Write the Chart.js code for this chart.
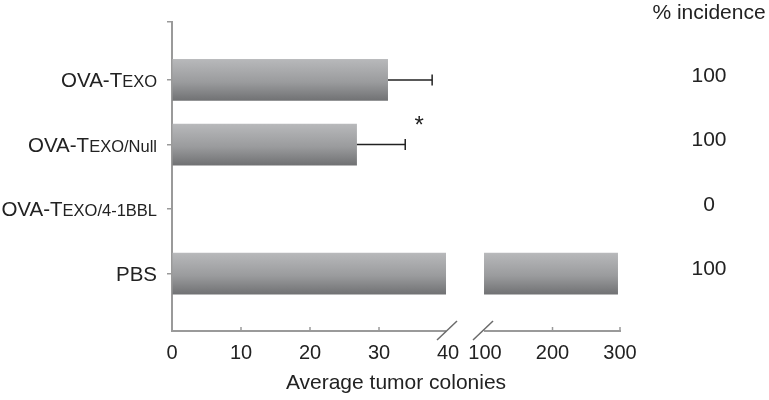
<!DOCTYPE html>
<html><head><meta charset="utf-8">
<script src="https://cdn.jsdelivr.net/npm/chart.js@4.4.1/dist/chart.umd.min.js"></script>
<style>html,body{margin:0;padding:0;background:#fff}</style>
</head><body>
<canvas id="c" width="769" height="400" style="width:769px;height:400px"></canvas>
<script>
// ---- data ----
const labelMain = ['OVA-T', 'OVA-T', 'OVA-T', 'PBS'];
const labelSub = ['EXO', 'EXO/Null', 'EXO/4-1BBL', ''];
const categories = labelMain.map((m, i) => m + labelSub[i]);
const colonies = [31.3, 26.8, 0, 297];
const errPlus = [6.4, 7.0, 0, 0];
const significance = ['', '*', '', ''];
const incidence = ['100', '100', '0', '100'];
const xTicks = [0, 10, 20, 30, 40, 100, 200, 300];
const breakLow = 40, breakHigh = 100;

const FONT = "'Liberation Sans', Arial, sans-serif";
const TXT = '#222';

// broken linear scale: 0-40 on the left part, 100-300 on the right part
class BrokenLinear extends Chart.LinearScale {
  _frac(v) {
    const fL = 0.6161, fH = 0.6987;
    if (v <= breakLow) return v / breakLow * fL;
    if (v >= breakHigh) return fH + (v - breakHigh) / (this.max - breakHigh) * (1 - fH);
    return fL + (v - breakLow) / (breakHigh - breakLow) * (fH - fL);
  }
  getPixelForValue(v) { return this.getPixelForDecimal(this._frac(v)); }
  getValueForPixel(p) {
    const d = this.getDecimalForPixel(p);
    const fL = 0.6161, fH = 0.6987;
    if (d <= fL) return d / fL * breakLow;
    if (d >= fH) return breakHigh + (d - fH) / (1 - fH) * (this.max - breakHigh);
    return breakLow + (d - fL) / (fH - fL) * (breakHigh - breakLow);
  }
  buildTicks() { return xTicks.map(v => ({ value: v })); }
}
BrokenLinear.id = 'brokenLinear';
BrokenLinear.defaults = {};
Chart.register(BrokenLinear);

const annot = {
  id: 'annot',
  afterDraw(chart) {
    const ctx = chart.ctx, xs = chart.scales.x, ys = chart.scales.y, ca = chart.chartArea;
    ctx.save();
    // gap of the broken axis
    const xL = xs.getPixelForValue(breakLow), xH = xs.getPixelForValue(breakHigh);
    ctx.fillStyle = '#fff';
    ctx.fillRect(xL - 2, ca.top, xH - xL + 1, ca.bottom - ca.top + 4);
    // x tick marks (inside)
    ctx.strokeStyle = '#9a9a9a'; ctx.lineWidth = 1.5;
    xs.ticks.forEach(t => {
      if (t.value === breakLow || t.value === breakHigh) return;
      const px = xs.getPixelForValue(t.value);
      ctx.beginPath(); ctx.moveTo(px, ca.bottom); ctx.lineTo(px, ca.bottom - 4); ctx.stroke();
    });
    // slashes
    ctx.strokeStyle = '#6a6a6a'; ctx.lineWidth = 1.5;
    [xL - 1, xH - 2].forEach(px => {
      ctx.beginPath(); ctx.moveTo(px - 10, ca.bottom + 9); ctx.lineTo(px + 10, ca.bottom - 10); ctx.stroke();
    });
    // error bars
    ctx.strokeStyle = '#222'; ctx.lineWidth = 1.5;
    colonies.forEach((v, i) => {
      if (!errPlus[i]) return;
      const y = ys.getPixelForValue(i);
      const x0 = xs.getPixelForValue(v), x1 = xs.getPixelForValue(v + errPlus[i]);
      ctx.beginPath(); ctx.moveTo(x0, y); ctx.lineTo(x1, y); ctx.stroke();
      ctx.beginPath(); ctx.moveTo(x1, y - 5.5); ctx.lineTo(x1, y + 5.5); ctx.stroke();
      if (significance[i]) {
        ctx.fillStyle = TXT; ctx.font = '24px ' + FONT;
        ctx.textAlign = 'center'; ctx.textBaseline = 'alphabetic';
        ctx.fillText(significance[i], x1 + 14, y - 25 + 0.57 * 24);
      }
    });
    // category labels with small-caps subscript part
    ctx.fillStyle = TXT; ctx.textBaseline = 'alphabetic'; ctx.textAlign = 'right';
    categories.forEach((c, i) => {
      const y = ys.getPixelForValue(i) + 7.4;
      let x = ca.left - 15;
      if (labelSub[i]) {
        ctx.font = '16.5px ' + FONT;
        ctx.fillText(labelSub[i], x, y);
        x -= ctx.measureText(labelSub[i]).width;
      }
      ctx.font = '20.5px ' + FONT;
      ctx.fillText(labelMain[i], x, y);
    });
    // incidence column
    ctx.textAlign = 'center'; ctx.textBaseline = 'middle';
    ctx.font = '21px ' + FONT;
    ctx.fillText('% incidence', 709, 13);
    incidence.forEach((t, i) => {
      ctx.fillText(t, 709, ys.getPixelForValue(i) - 4);
    });
    ctx.restore();
  }
};

const barGradient = (c) => {
  const chart = c.chart, ys = chart.scales.y;
  if (!ys || !chart.chartArea || c.type !== 'data') return '#999';
  const yc = ys.getPixelForValue(c.dataIndex);
  const h = Math.abs(ys.getPixelForValue(1) - ys.getPixelForValue(0)) * 0.72;
  const g = chart.ctx.createLinearGradient(0, yc - h / 2, 0, yc + h / 2);
  g.addColorStop(0, '#c4c5c7');
  g.addColorStop(0.08, '#b6b7b9');
  g.addColorStop(0.55, '#9a9b9d');
  g.addColorStop(0.95, '#707173');
  g.addColorStop(1, '#8a8b8d');
  return g;
};

new Chart(document.getElementById('c'), {
  type: 'bar',
  data: {
    labels: categories,
    datasets: [{
      data: colonies.map((v, i) => ({ x: v, y: i })),
      backgroundColor: barGradient,
      borderWidth: 0,
      categoryPercentage: 0.8,
      barPercentage: 0.9
    }]
  },
  options: {
    indexAxis: 'y',
    responsive: false,
    animation: false,
    events: [],
    layout: { padding: { left: 0, right: 149, top: 22, bottom: 0 } },
    plugins: { legend: { display: false }, tooltip: { enabled: false } },
    scales: {
      x: {
        type: 'brokenLinear',
        min: 0, max: 300,
        offset: false,
        afterFit: s => { s.height = 69; },
        grid: { display: true, drawOnChartArea: false, drawTicks: false },
        border: { display: true, color: '#9a9a9a', width: 2 },
        ticks: { autoSkip: false, maxRotation: 0, padding: 10, color: TXT, font: { family: FONT, size: 20 } },
        title: { display: true, text: 'Average tumor colonies', color: TXT, font: { family: FONT, size: 21 }, padding: { top: 0, bottom: 4 } }
      },
      y: {
        type: 'linear',
        reverse: true,
        offset: false,
        bounds: 'data',
        min: -0.899, max: 3.891,
        afterBuildTicks: s => { s.ticks = [{ value: s.min }].concat(categories.map((_, i) => ({ value: i }))); },
        afterFit: s => { s.width = 172; },
        grid: { offset: false, drawOnChartArea: false, drawTicks: true, tickLength: 5, color: '#9a9a9a', lineWidth: 1.5 },
        border: { display: true, color: '#9a9a9a', width: 2 },
        ticks: { display: false }
      }
    }
  },
  plugins: [annot]
});
</script>
</body></html>
